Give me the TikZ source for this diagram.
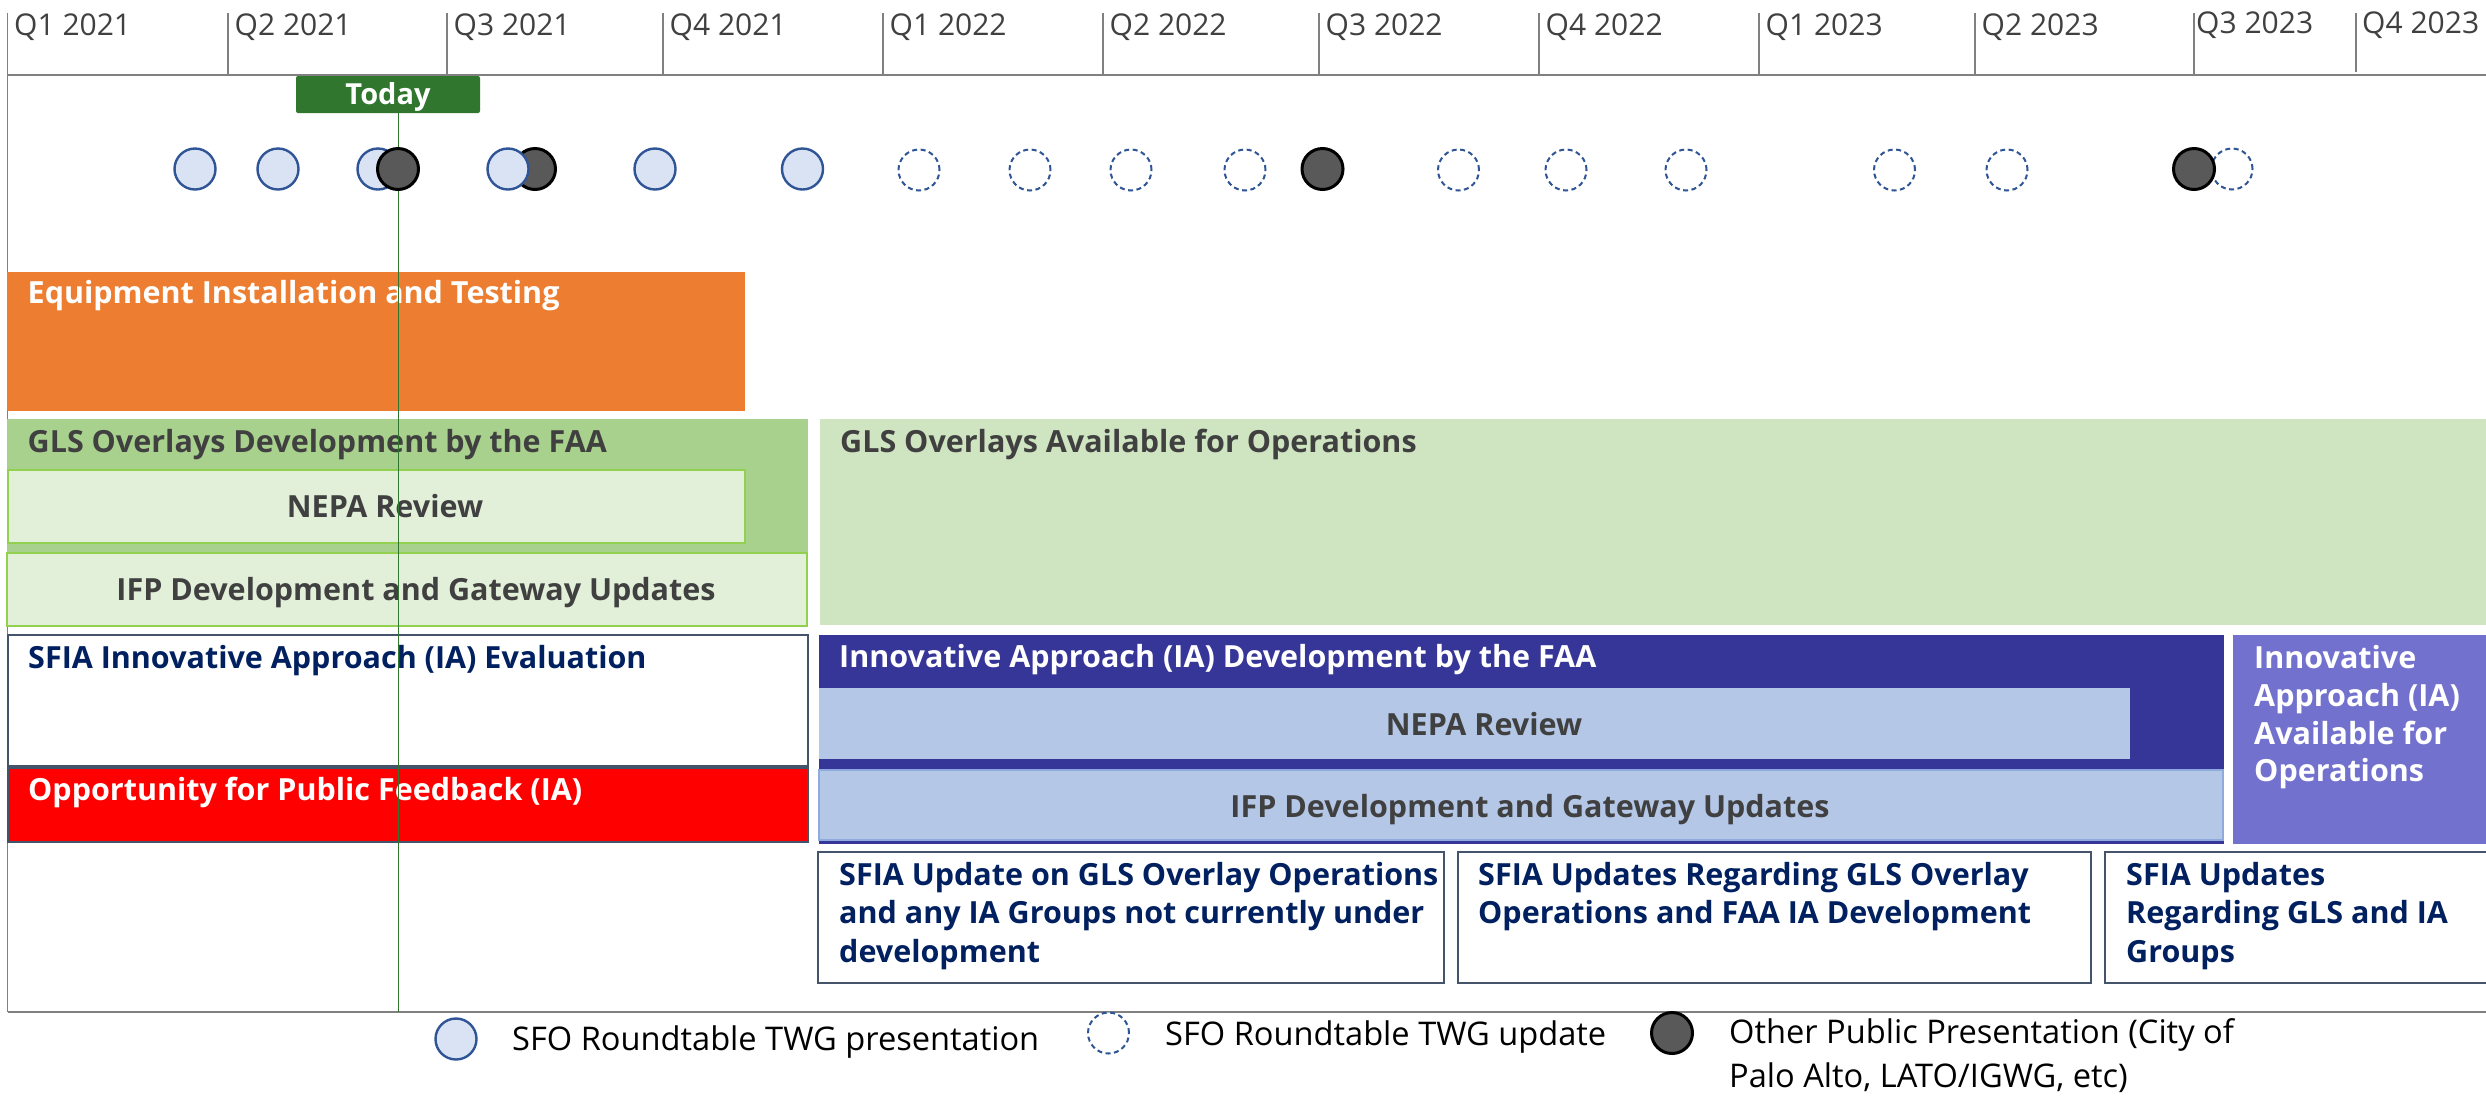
\documentclass[tikz,border=0pt]{standalone}
\usepackage{fontspec}
\setmainfont{Open Sans}
\definecolor{qgray}{HTML}{404040}
\definecolor{linegray}{HTML}{808080}
\definecolor{orangebar}{HTML}{ED7D31}
\definecolor{greendark}{HTML}{A9D18E}
\definecolor{greenlight}{HTML}{E2F0D9}
\definecolor{greenborder}{HTML}{92D050}
\definecolor{greenavail}{HTML}{CFE4C0}
\definecolor{iablue}{HTML}{363699}
\definecolor{ialight}{HTML}{B4C7E7}
\definecolor{iaborder}{HTML}{8FAADC}
\definecolor{iapurple}{HTML}{7272CE}
\definecolor{navytext}{HTML}{002060}
\definecolor{boxborder}{HTML}{44546A}
\definecolor{todaygreen}{HTML}{31762F}
\definecolor{circfill}{HTML}{DAE3F3}
\definecolor{circline}{HTML}{2F5597}
\definecolor{darkcirc}{HTML}{595959}
\begin{document}
\begin{tikzpicture}[x=1pt,y=-1pt,
  bar/.style={anchor=north west, inner sep=0pt, outer sep=0pt},
  qlab/.style={anchor=base west, inner sep=0pt, text=qgray, font=\fontsize{30}{36}\selectfont},
  btxt/.style={anchor=base west, inner sep=0pt, font=\fontsize{30.5}{36}\selectfont\bfseries},
  ctxt/.style={anchor=base, inner sep=0pt, text=qgray, font=\fontsize{30.5}{36}\selectfont\bfseries},
  legtxt/.style={anchor=base west, inner sep=0pt, text=black, font=\fontsize{32.6}{38}\selectfont},
  pres/.style={circle, inner sep=0pt, minimum size=41pt, fill=circfill, draw=circline, line width=2.4pt},
  upd/.style={circle, inner sep=0pt, minimum size=41pt, fill=white, draw=circline, line width=2pt, dash pattern=on 5pt off 3.5pt},
  other/.style={circle, inner sep=0pt, minimum size=41pt, fill=darkcirc, draw=black, line width=3pt},
  tick/.style={draw=linegray, line width=1.3pt}
]
\clip (0,0) rectangle (2486,1096);
\fill[white] (0,0) rectangle (2486,1096);

% ---- header ticks and quarter labels
\foreach \x/\lab [count=\i] in {7.5/Q1 2021, 228/Q2 2021, 447/Q3 2021, 663/Q4 2021, 883/Q1 2022, 1103/Q2 2022, 1319/Q3 2022, 1539/Q4 2022, 1759/Q1 2023, 1975/Q2 2023}{
  \coordinate (tick\i) at (\x,13);
  \draw[tick] (tick\i) -- (\x,75);
  \node[qlab] (qlab\i) at (\x+6.5,35) {\lab};
}
\coordinate (tickq3) at (2194,13);
\draw[tick] (tickq3) -- (2194,75);
\node[qlab] (qlabq3) at (2196,33) {Q3 2023};
\coordinate (tickq4) at (2356,13);
\draw[tick] (tickq4) -- (2356,72);
\node[qlab] (qlabq4) at (2362,33) {Q4 2023};

% frame lines
\coordinate (hl) at (7.5,75);
\coordinate (hr) at (2486,75);
\coordinate (bl) at (7.5,1012);
\coordinate (br) at (2486,1012);
\draw[draw=linegray, line width=1.8pt] (hl) -- (hr);
\draw[draw=linegray, line width=1.8pt] (bl) -- (br);
\draw[draw=linegray, line width=1.5pt] (tick1) -- (bl);

% ---- Equipment installation
\node[bar, fill=orangebar, minimum width=737.5pt, minimum height=139pt] (equip) at (7,272) {};
\node[btxt, text=white] (equipt) at (27.5,303) {Equipment Installation and Testing};

% ---- GLS overlays development
\node[bar, fill=greendark, minimum width=801pt, minimum height=207pt] (glsdev) at (7,419) {};
\node[btxt, text=qgray] (glsdevt) at (27.5,452) {GLS Overlays Development by the FAA};
\node[bar, fill=greenlight, draw=greenborder, line width=2pt, minimum width=736.5pt, minimum height=73pt] (glsnepa) at (8,470) {};
\node[ctxt] (glsnepat) at (385,517) {NEPA Review};
\node[bar, fill=greenlight, draw=greenborder, line width=2pt, minimum width=800pt, minimum height=73pt] (glsifp) at (7,553) {};
\node[ctxt] (glsifpt) at (416,600) {IFP Development and Gateway Updates};

% ---- GLS available
\node[bar, fill=greenavail, minimum width=1680pt, minimum height=206pt] (glsav) at (820,419) {};
\node[btxt, text=qgray] (glsavt) at (840,452) {GLS Overlays Available for Operations};

% ---- SFIA evaluation and feedback
\node[bar, fill=white, draw=boxborder, line width=2pt, minimum width=800pt, minimum height=131pt] (sfiaeval) at (8,635) {};
\node[btxt, text=navytext] (sfiaevalt) at (28,668) {SFIA Innovative Approach (IA) Evaluation};
\node[bar, fill=red, draw=boxborder, line width=2pt, minimum width=800pt, minimum height=74pt] (feedback) at (8,768) {};
\node[btxt, text=white] (feedbackt) at (28,800) {Opportunity for Public Feedback (IA)};

% ---- IA development
\node[bar, fill=iablue, minimum width=1405pt, minimum height=209pt] (iadev) at (819,635) {};
\node[btxt, text=white] (iadevt) at (839,667) {Innovative Approach (IA) Development by the FAA};
\node[bar, fill=ialight, minimum width=1311pt, minimum height=71pt] (ianepa) at (819,688) {};
\node[ctxt] (ianepat) at (1484,735) {NEPA Review};
\node[bar, fill=ialight, draw=iaborder, line width=1.5pt, minimum width=1404pt, minimum height=70pt] (iaifp) at (819,770) {};
\node[ctxt] (iaifpt) at (1530,817) {IFP Development and Gateway Updates};

% ---- IA available
\node[bar, fill=iapurple, minimum width=260pt, minimum height=209pt] (iaav) at (2233,635) {};
\node[btxt, text=white] (iaav1) at (2254,668.5) {Innovative};
\node[btxt, text=white] (iaav2) at (2254,706) {Approach (IA)};
\node[btxt, text=white] (iaav3) at (2254,744) {Available for};
\node[btxt, text=white] (iaav4) at (2254,781.5) {Operations};

% ---- SFIA update boxes
\node[bar, fill=white, draw=boxborder, line width=2pt, minimum width=626pt, minimum height=131pt] (up1) at (818,852) {};
\node[btxt, text=navytext] (up1a) at (839,885) {SFIA Update on GLS Overlay Operations};
\node[btxt, text=navytext] (up1b) at (839,923.5) {and any IA Groups not currently under};
\node[btxt, text=navytext] (up1c) at (839,962) {development};
\node[bar, fill=white, draw=boxborder, line width=2pt, minimum width=633pt, minimum height=131pt] (up2) at (1458,852) {};
\node[btxt, text=navytext] (up2a) at (1478,885) {SFIA Updates Regarding GLS Overlay};
\node[btxt, text=navytext] (up2b) at (1478,923.5) {Operations and FAA IA Development};
\node[bar, fill=white, draw=boxborder, line width=2pt, minimum width=400pt, minimum height=131pt] (up3) at (2105,852) {};
\node[btxt, text=navytext] (up3a) at (2126,885.5) {SFIA Updates};
\node[btxt, text=navytext] (up3b) at (2126,923.5) {Regarding GLS and IA};
\node[btxt, text=navytext] (up3c) at (2126,962) {Groups};

% ---- Today marker
\node[bar, fill=todaygreen, rounded corners=2pt, minimum width=184pt, minimum height=37pt] (today) at (296,76) {};
\node[anchor=base, inner sep=0pt, text=white, font=\fontsize{29}{34}\selectfont\bfseries] (todayt) at (388,104.5) {Today};
\coordinate (todaytop) at (398.5,113);
\coordinate (todaybot) at (398.5,1012);
\draw[todaygreen, line width=1.3pt] (todaytop) -- (todaybot);

% ---- presentation circles
\node[pres] (p1) at (195,169) {};
\node[pres] (p2) at (278,169) {};
\node[pres] (p3) at (378,169) {};
\node[other] (o1) at (398,169) {};
\node[other] (o2) at (535,169) {};
\node[pres] (p4) at (508,169) {};
\node[pres] (p5) at (655,169) {};
\node[pres] (p6) at (802.5,169) {};
\node[upd] (u1) at (919,170) {};
\node[upd] (u2) at (1030,170) {};
\node[upd] (u3) at (1131,170) {};
\node[upd] (u4) at (1245,170) {};
\node[other] (o3) at (1322.5,169) {};
\node[upd] (u5) at (1458.5,170) {};
\node[upd] (u6) at (1566,170) {};
\node[upd] (u7) at (1686,170) {};
\node[upd] (u8) at (1894.5,170) {};
\node[upd] (u9) at (2007,170) {};
\node[upd] (u10) at (2232,169) {};
\node[other] (o4) at (2194,169) {};

% ---- legend
\node[pres] (lp) at (456,1039) {};
\node[legtxt] (lpt) at (512,1050) {SFO Roundtable TWG presentation};
\node[upd] (lu) at (1108.5,1033) {};
\node[legtxt] (lut) at (1165,1045) {SFO Roundtable TWG update};
\node[other] (lo) at (1672,1033) {};
\node[legtxt] (lot1) at (1729,1043) {Other Public Presentation (City of};
\node[legtxt] (lot2) at (1729,1087) {Palo Alto, LATO/IGWG, etc)};
\end{tikzpicture}
\end{document}
